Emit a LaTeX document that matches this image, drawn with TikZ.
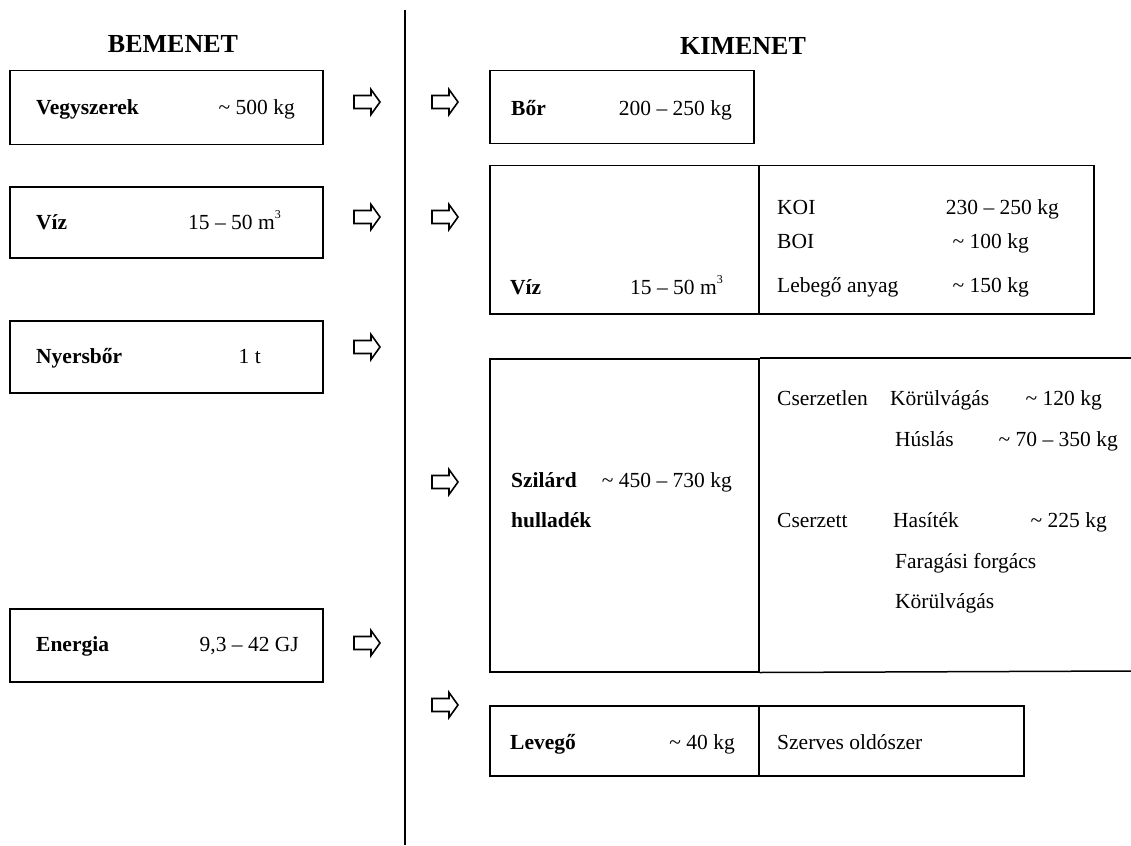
\documentclass[tikz,border=0pt]{standalone}
\usepackage{fontspec}
\setmainfont{Liberation Serif}
\newcommand{\cubed}{\raisebox{0.5em}{\fontsize{12}{12}\selectfont 3}}
\begin{document}
\begin{tikzpicture}[x=1pt,y=-1pt,
  cell/.style={draw, line width=1.5pt, inner sep=0pt, anchor=north west},
  lbl/.style={anchor=base west, inner sep=0pt, font=\fontsize{21.5}{26}\selectfont},
  blbl/.style={anchor=base west, inner sep=0pt, font=\fontsize{21.5}{26}\selectfont\bfseries},
  val/.style={anchor=base east, inner sep=0pt, font=\fontsize{21.5}{26}\selectfont},
  ttl/.style={anchor=base, inner sep=0pt, font=\fontsize{26}{30}\selectfont\bfseries},
  barrow/.pic={\draw[line width=1.6pt, line join=miter] (0,-6.5) -- (17,-6.5) -- (17,-12.5) -- (26,0) -- (17,12.5) -- (17,6.5) -- (0,6.5) -- cycle;}
]
\useasboundingbox (0,0) rectangle (1131,845);
% divider
\coordinate (vtop) at (405,10);
\coordinate (vbot) at (405,845);
\draw[line width=2pt] (vtop) -- (vbot);
% titles
\node[ttl] (tin) at (173,53) {BEMENET};
\node[ttl] (tout) at (743,55) {KIMENET};
% input boxes
\node[cell, minimum width=313pt, minimum height=74pt] (bvegy) at (9,70) {};
\node[cell, minimum width=313pt, minimum height=71pt] (bviz) at (9,186) {};
\node[cell, minimum width=313pt, minimum height=72pt] (bnyers) at (9,320) {};
\node[cell, minimum width=313pt, minimum height=73pt] (bener) at (9,608) {};
\node[blbl] (tvegy) at (36,115) {Vegyszerek};
\node[val] (vvegy) at (295,115) {\textasciitilde\ 500 kg};
\node[blbl] (tviz) at (36,229) {Víz};
\node[val] (vviz) at (281,229) {15 – 50 m\cubed};
\node[blbl] (tnyers) at (36,363) {Nyersbőr};
\node[val] (vnyers) at (261,363) {1 t};
\node[blbl] (tener) at (36,651) {Energia};
\node[val] (vener) at (299,651) {9,3 – 42 GJ};
% arrows left of divider
\pic at (354,102) {barrow};
\pic at (354,217) {barrow};
\pic at (354,347) {barrow};
\pic at (354,643) {barrow};
% arrows right of divider
\pic at (432,102) {barrow};
\pic at (432,217) {barrow};
\pic at (432,482) {barrow};
\pic at (432,705) {barrow};
% Bor
\node[cell, minimum width=264pt, minimum height=73pt] (bbor) at (489,70) {};
\node[blbl] (tbor) at (511,116) {Bőr};
\node[val] (vbor) at (732,116) {200 – 250 kg};
% Viz output
\node[cell, minimum width=269pt, minimum height=148pt] (bvizo) at (489,165) {};
\node[cell, minimum width=335pt, minimum height=148pt] (bvizr) at (758,165) {};
\node[blbl] (tvizo) at (510,294) {Víz};
\node[val] (vvizo) at (723,294) {15 – 50 m\cubed};
\node[lbl] (tkoi) at (777,214) {KOI};
\node[val] (vkoi) at (1059,214) {230 – 250 kg};
\node[lbl] (tboi) at (777,248) {BOI};
\node[val] (vboi) at (1029,248) {\textasciitilde\ 100 kg};
\node[lbl] (tleb) at (777,292) {Lebegő anyag};
\node[val] (vleb) at (1029,292) {\textasciitilde\ 150 kg};
% Szilard
\node[cell, minimum width=269pt, minimum height=313pt] (bsz) at (489,358) {};
\coordinate (szT) at (1131,358);
\coordinate (szB) at (1131,671);
\draw[line width=1.5pt] (bsz.north east) -- (szT);
\draw[line width=1.5pt] (bsz.south east) -- (szB);
\node[blbl] (tsz1) at (511,487) {Szilárd};
\node[val] (vsz) at (732,487) {\textasciitilde\ 450 – 730 kg};
\node[blbl] (tsz2) at (511,527) {hulladék};
\node[lbl] (tcsn) at (777,405) {Cserzetlen};
\node[lbl] (tkor1) at (890,405) {Körülvágás};
\node[val] (vkor1) at (1102,405) {\textasciitilde\ 120 kg};
\node[lbl] (thus) at (895,446) {Húslás};
\node[val] (vhus) at (1118,446) {\textasciitilde\ 70 – 350 kg};
\node[lbl] (tcs) at (777,527) {Cserzett};
\node[lbl] (thas) at (893,527) {Hasíték};
\node[val] (vhas) at (1107,527) {\textasciitilde\ 225 kg};
\node[lbl] (tfar) at (895,568) {Faragási forgács};
\node[lbl] (tkor2) at (895,608) {Körülvágás};
% Levego
\node[cell, minimum width=269pt, minimum height=70pt] (blev) at (489,705) {};
\node[cell, minimum width=265pt, minimum height=70pt] (blevr) at (758,705) {};
\node[blbl] (tlev) at (510,749) {Levegő};
\node[val] (vlev) at (735,749) {\textasciitilde\ 40 kg};
\node[lbl] (tszer) at (777,749) {Szerves oldószer};
\end{tikzpicture}
\end{document}
